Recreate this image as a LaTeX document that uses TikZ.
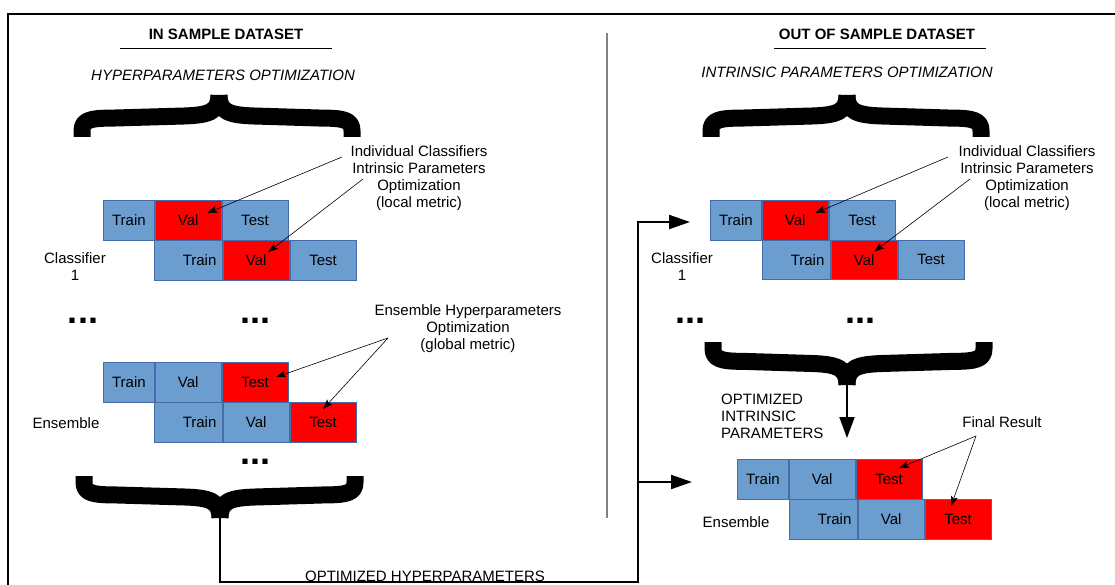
\documentclass[tikz,border=0pt]{standalone}
\usepackage{fontspec}
\setmainfont{Liberation Sans}
\usetikzlibrary{positioning, arrows.meta}

\definecolor{boxblue}{RGB}{108,157,207}
\definecolor{boxline}{RGB}{68,108,172}
\definecolor{boxred}{RGB}{255,0,0}
\definecolor{divgray}{RGB}{130,130,130}

\newcommand{\labelsize}{\fontsize{15}{17}\selectfont}

\tikzset{
  cell/.style={draw=boxline, fill=boxblue, minimum height=39.5pt, inner sep=0pt, line width=0.8pt},
  narrowcell/.style={cell, minimum width=51pt},
  widecell/.style={cell, minimum width=66pt},
  hot/.style={fill=boxred},
  pushright/.style={text width=56pt, align=right, inner xsep=6pt},
  pointer/.style={-{Stealth[length=10pt,width=7pt,inset=2pt]}, line width=0.6pt},
  bigtip/.style={-{Triangle[length=21pt,width=14pt]}, line width=2pt},
  heavybrace/.style={line width=17pt, line cap=butt, line join=round},
  dots/.style={font=\fontsize{36}{36}\selectfont\bfseries, anchor=base, inner sep=0pt}
}

% thick curly brace: left x, right x, tip x, y of the ends, y of the tip
\newcommand{\fatbrace}[5]{%
  \draw[heavybrace] (#1,#4) -- (#1,{#4+0.15*(#5-#4)})
    .. controls (#1,{#4+0.4*(#5-#4)}) and ({#1+8},{#4+0.45*(#5-#4)}) .. ({#1+30},{#4+0.45*(#5-#4)})
    -- ({#3-35},{#4+0.5*(#5-#4)})
    .. controls ({#3-10},{#4+0.52*(#5-#4)}) and (#3,{#4+0.6*(#5-#4)}) .. (#3,#5);
  \draw[heavybrace] (#2,#4) -- (#2,{#4+0.15*(#5-#4)})
    .. controls (#2,{#4+0.4*(#5-#4)}) and ({#2-8},{#4+0.45*(#5-#4)}) .. ({#2-30},{#4+0.45*(#5-#4)})
    -- ({#3+35},{#4+0.5*(#5-#4)})
    .. controls ({#3+10},{#4+0.52*(#5-#4)}) and (#3,{#4+0.6*(#5-#4)}) .. (#3,#5);
}

\begin{document}
\begin{tikzpicture}[x=1pt, y=-1pt, font=\labelsize]
  \useasboundingbox[fill=white] (0,0) rectangle (1115,585);

  % frame and divider
  \draw[line width=1.3pt] (1115,14) -- (8,14) -- (8,585);
  \draw[divgray, line width=1.5pt] (607,33) -- (607,518);

  % titles
  \node[font=\labelsize\bfseries, anchor=base] (inTitle) at (226,40) {IN SAMPLE DATASET};
  \draw[line width=0.8pt] (120,48) -- (332,48);
  \node[font=\labelsize\bfseries, anchor=base] (outTitle) at (877,40) {OUT OF SAMPLE DATASET};
  \draw[line width=0.8pt] (774,48) -- (986,48);
  \node[font=\labelsize\itshape, anchor=base] (hypTitle) at (223,81) {HYPERPARAMETERS OPTIMIZATION};
  \node[font=\labelsize\itshape, anchor=base] (intTitle) at (847,78) {INTRINSIC PARAMETERS OPTIMIZATION};

  % braces
  \fatbrace{82}{352}{219}{137}{95}
  \fatbrace{84}{355}{220}{476}{518}
  \fatbrace{711}{981}{847}{137}{95}
  \fatbrace{713}{984}{847}{342}{385}

  %% in sample: classifier
  \node[narrowcell, anchor=north west] (ltrainA) at (103,200) {Train};
  \node[widecell, hot, right=0pt of ltrainA] (lvalA) {Val};
  \node[widecell, right=0pt of lvalA] (ltestA) {Test};
  \node[widecell, pushright, anchor=north west] (ltrainB) at (154,240) {Train};
  \node[widecell, hot, right=0pt of ltrainB] (lvalB) {Val};
  \node[widecell, right=0pt of lvalB] (ltestB) {Test};
  \node[align=center, anchor=north, inner sep=0pt] (lcls) at (75,252) {Classifier\\1};

  \node[dots] (ldotsA) at (83,323) {...};
  \node[dots] (ldotsB) at (255,323) {...};

  %% in sample: ensemble
  \node[narrowcell, anchor=north west] (etrainA) at (103,362) {Train};
  \node[widecell, right=0pt of etrainA] (evalA) {Val};
  \node[widecell, hot, right=0pt of evalA] (etestA) {Test};
  \node[widecell, pushright, anchor=north west] (etrainB) at (154,402) {Train};
  \node[widecell, right=0pt of etrainB] (evalB) {Val};
  \node[widecell, hot, right=0pt of evalB] (etestB) {Test};
  \node[anchor=base] (lens) at (66,428) {Ensemble};
  \node[dots] (ldotsC) at (255,464) {...};

  % annotations (in sample)
  \node[align=center, anchor=north, inner sep=0pt] (lnote) at (419,145)
    {Individual Classifiers\\Intrinsic Parameters\\Optimization\\(local metric)};
  \coordinate (lnoteA) at (342,157);
  \coordinate (lnoteB) at (363,179);
  \draw[pointer] (lnoteA) -- ([xshift=19pt,yshift=7pt]lvalA.center);
  \draw[pointer] (lnoteB) -- ([xshift=12pt,yshift=8pt]lvalB.center);

  \node[align=center, anchor=north, inner sep=0pt] (enote) at (468,304)
    {Ensemble Hyperparameters\\Optimization\\(global metric)};
  \coordinate (enoteA) at (388,338);
  \draw[pointer] (enoteA) -- ([xshift=21pt,yshift=5pt]etestA.center);
  \draw[pointer] (enoteA) -- ([xshift=0pt,yshift=13pt]etestB.center);

  %% out of sample: classifier
  \node[narrowcell, anchor=north west] (rtrainA) at (710,200) {Train};
  \node[widecell, hot, right=0pt of rtrainA] (rvalA) {Val};
  \node[widecell, right=0pt of rvalA] (rtestA) {Test};
  \node[widecell, pushright, anchor=north west] (rtrainB) at (762,239.5) {Train};
  \node[widecell, hot, right=0pt of rtrainB] (rvalB) {Val};
  \node[widecell, right=0pt of rvalB] (rtestB) {Test};
  \node[align=center, anchor=north, inner sep=0pt] (rcls) at (682,252) {Classifier\\1};

  \node[dots] (rdotsA) at (690,323) {...};
  \node[dots] (rdotsB) at (860,323) {...};

  \node[align=center, anchor=north, inner sep=0pt] (rnote) at (1027,145)
    {Individual Classifiers\\Intrinsic Parameters\\Optimization\\(local metric)};
  \coordinate (rnoteA) at (948,157);
  \coordinate (rnoteB) at (970,179);
  \draw[pointer] (rnoteA) -- ([xshift=20pt,yshift=7pt]rvalA.center);
  \draw[pointer] (rnoteB) -- ([xshift=10pt,yshift=8pt]rvalB.center);

  %% out of sample: ensemble
  \node[align=left, anchor=north west, inner sep=0pt] (optint) at (721,394)
    {OPTIMIZED\\INTRINSIC\\PARAMETERS};
  \coordinate (intTip) at (847,385);
  \coordinate (intEnd) at (847,438);
  \draw[bigtip, -{Triangle[length=21pt,width=15pt]}] (intTip) -- (intEnd);

  \node[narrowcell, anchor=north west] (ftrainA) at (737,459) {Train};
  \node[widecell, right=0pt of ftrainA] (fvalA) {Val};
  \node[widecell, hot, right=0pt of fvalA] (ftestA) {Test};
  \node[widecell, pushright, anchor=north west] (ftrainB) at (789,499) {Train};
  \node[widecell, right=0pt of ftrainB] (fvalB) {Val};
  \node[widecell, hot, right=0pt of fvalB] (ftestB) {Test};
  \node[anchor=base] (rens) at (736,527) {Ensemble};

  \node[anchor=base] (final) at (1002,427) {Final Result};
  \coordinate (finalA) at (976,436);
  \draw[pointer] (finalA) -- ([xshift=10pt,yshift=11pt]ftestA.center);
  \draw[pointer] (finalA) -- ([xshift=-7pt,yshift=13pt]ftestB.center);

  %% hyperparameters handed over
  \coordinate (hypTip) at (220,518);
  \coordinate (hypTurn) at (220,582);
  \coordinate (feedTurn) at (638,582);
  \coordinate (feedTop) at (638,222);
  \coordinate (feedMid) at (638,482);
  \coordinate (clsIn) at (690,222);
  \coordinate (ensIn) at (692,482);
  \draw[bigtip] (hypTip) -- (hypTurn) -- (feedTurn) -- (feedTop) -- (clsIn);
  \draw[bigtip] (feedMid) -- (ensIn);
  \node[anchor=base, inner sep=0pt] (opthyp) at (425,581) {OPTIMIZED HYPERPARAMETERS};
\end{tikzpicture}
\end{document}
